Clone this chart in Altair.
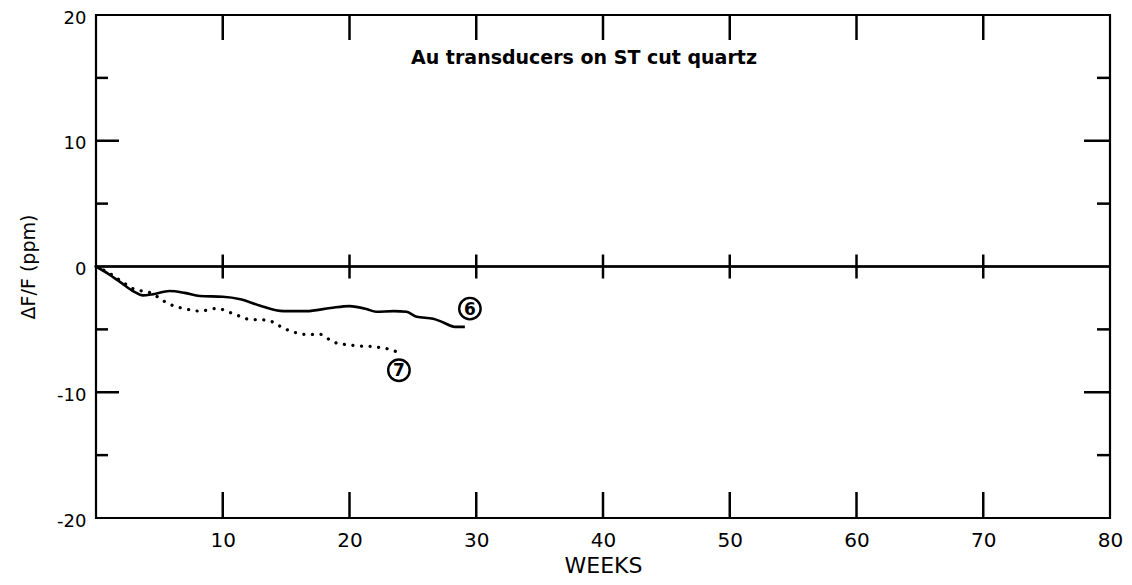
import altair as alt
import pandas as pd

# ---- data ----
weeks6 = [0, 1.0, 2.0, 3.0, 3.7, 4.5, 5.8, 7.0, 8.2, 10.0, 11.4, 12.9, 14.8, 16.6, 18.5, 20.0, 21.4, 22.1, 23.5, 24.5, 25.3, 26.6, 27.4, 28.3, 29.1]
vals6 = [0, -0.6, -1.3, -2.0, -2.3, -2.2, -1.95, -2.1, -2.35, -2.4, -2.6, -3.1, -3.55, -3.55, -3.3, -3.15, -3.4, -3.6, -3.55, -3.6, -4.0, -4.15, -4.45, -4.8, -4.8]

weeks7 = [0, 1.0, 1.9, 2.9, 4.3, 5.8, 7.2, 8.2, 9.5, 10.8, 12.1, 13.5, 15.0, 16.6, 17.7, 18.7, 20.3, 22.1, 23.2, 24.0]
vals7 = [0, -0.5, -1.1, -1.75, -2.1, -3.0, -3.4, -3.55, -3.34, -3.74, -4.2, -4.27, -5.0, -5.4, -5.4, -6.0, -6.28, -6.4, -6.6, -6.9]

curve_labels = ["6", "7"]
label_weeks = [29.5, 23.9]
label_vals = [-3.35, -8.25]

x_label_values = [10, 20, 30, 40, 50, 60, 70, 80]
x_tick_values = [10, 20, 30, 40, 50, 60, 70]
y_label_values = [-20, -10, 0, 10, 20]
y_major_ticks = [-10, 10]
y_minor_ticks = [-15, -5, 5, 15]

annotation = "Au transducers on ST cut quartz"
annot_week = 38.5
annot_val = 16.6

FONT = "DejaVu Sans"

df6 = pd.DataFrame({"week": weeks6, "val": vals6})
df7 = pd.DataFrame({"week": weeks7, "val": vals7})
dflab = pd.DataFrame({"week": label_weeks, "val": label_vals, "lab": curve_labels})
dfx = pd.DataFrame({"week": x_tick_values})
dfymaj = pd.DataFrame({"val": y_major_ticks})
dfymin = pd.DataFrame({"val": y_minor_ticks})

xs = alt.Scale(domain=[0, 80], nice=False, zero=False)
ys = alt.Scale(domain=[-20, 20], nice=False, zero=False)

xaxis = alt.Axis(values=x_label_values, ticks=False, domain=False, grid=False,
                 labelFontSize=20, labelPadding=12, labelFlush=False, labelFont=FONT,
                 labelColor="black", title="WEEKS", titleFont=FONT, titleFontSize=22,
                 titleFontWeight="normal", titleColor="black", titlePadding=5)
yaxis = alt.Axis(values=y_label_values, ticks=False, domain=False, grid=False,
                 labelFontSize=18, labelPadding=10, labelFlush=False, labelFont=FONT,
                 labelOffset=3, labelColor="black", labelExpr="datum.value + ''",
                 title="ΔF/F (ppm)", titleFont=FONT, titleFontSize=19,
                 titleFontWeight="normal", titleColor="black", titlePadding=18)

base_x = alt.X("week:Q", scale=xs, axis=xaxis)
base_y = alt.Y("val:Q", scale=ys, axis=yaxis)

line6 = alt.Chart(df6).mark_line(color="black", strokeWidth=2.6, interpolate="monotone").encode(
    x=base_x, y=base_y)
line7 = alt.Chart(df7).mark_line(color="black", strokeWidth=3.2, strokeDash=[0.1, 8.5],
                                 strokeCap="round", interpolate="monotone").encode(
    x=alt.X("week:Q", scale=xs), y=alt.Y("val:Q", scale=ys))

circles = alt.Chart(dflab).mark_point(shape="circle", size=460, color="black", opacity=1,
                                     strokeWidth=2.4, filled=False).encode(
    x=alt.X("week:Q", scale=xs), y=alt.Y("val:Q", scale=ys))
circ_text = alt.Chart(dflab).mark_text(font=FONT, fontSize=17, fontWeight="bold",
                                      color="black", baseline="middle", align="center", dy=1).encode(
    x=alt.X("week:Q", scale=xs), y=alt.Y("val:Q", scale=ys), text="lab:N")

zero_line = alt.Chart(dfx).mark_rule(color="black", strokeWidth=1.6).encode(
    y=alt.Y(datum=0, scale=ys))
zero_ticks = alt.Chart(dfx).mark_rule(color="black", strokeWidth=2.5, yOffset=-12, y2Offset=12).encode(
    x=alt.X("week:Q", scale=xs), y=alt.Y(datum=0, scale=ys), y2=alt.Y2(datum=0))
bottom_ticks = alt.Chart(dfx).mark_rule(color="black", strokeWidth=2.5, y2Offset=-26).encode(
    x=alt.X("week:Q", scale=xs), y=alt.Y(datum=-20, scale=ys), y2=alt.Y2(datum=-20))
top_ticks = alt.Chart(dfx).mark_rule(color="black", strokeWidth=2.5, y2Offset=25).encode(
    x=alt.X("week:Q", scale=xs), y=alt.Y(datum=20, scale=ys), y2=alt.Y2(datum=20))

left_major = alt.Chart(dfymaj).mark_rule(color="black", strokeWidth=2.5, x2Offset=23).encode(
    y=alt.Y("val:Q", scale=ys), x=alt.X(datum=0, scale=xs), x2=alt.X2(datum=0))
left_minor = alt.Chart(dfymin).mark_rule(color="black", strokeWidth=2.5, x2Offset=12).encode(
    y=alt.Y("val:Q", scale=ys), x=alt.X(datum=0, scale=xs), x2=alt.X2(datum=0))
right_major = alt.Chart(dfymaj).mark_rule(color="black", strokeWidth=2.5, x2Offset=-26).encode(
    y=alt.Y("val:Q", scale=ys), x=alt.X(datum=80, scale=xs), x2=alt.X2(datum=80))
right_minor = alt.Chart(dfymin).mark_rule(color="black", strokeWidth=2.5, x2Offset=-13).encode(
    y=alt.Y("val:Q", scale=ys), x=alt.X(datum=80, scale=xs), x2=alt.X2(datum=80))

annot = alt.Chart(pd.DataFrame({"t": [annotation]})).mark_text(
    font=FONT, fontSize=19, fontWeight="bold", color="black", align="center", baseline="middle").encode(
    x=alt.X(datum=annot_week, scale=xs), y=alt.Y(datum=annot_val, scale=ys), text="t:N")

chart = alt.layer(
    line6, line7, zero_line, zero_ticks, bottom_ticks, top_ticks,
    left_major, left_minor, right_major, right_minor, circles, circ_text, annot
).properties(
    width=1014, height=503,
    autosize=alt.AutoSizeParams(type="none"),
    padding={"left": 88, "top": 7, "right": 14, "bottom": 59},
    background="white",
).configure_view(stroke="black", strokeWidth=2.2)

chart.save("out.html", embed_options={"renderer": "svg", "actions": False})
